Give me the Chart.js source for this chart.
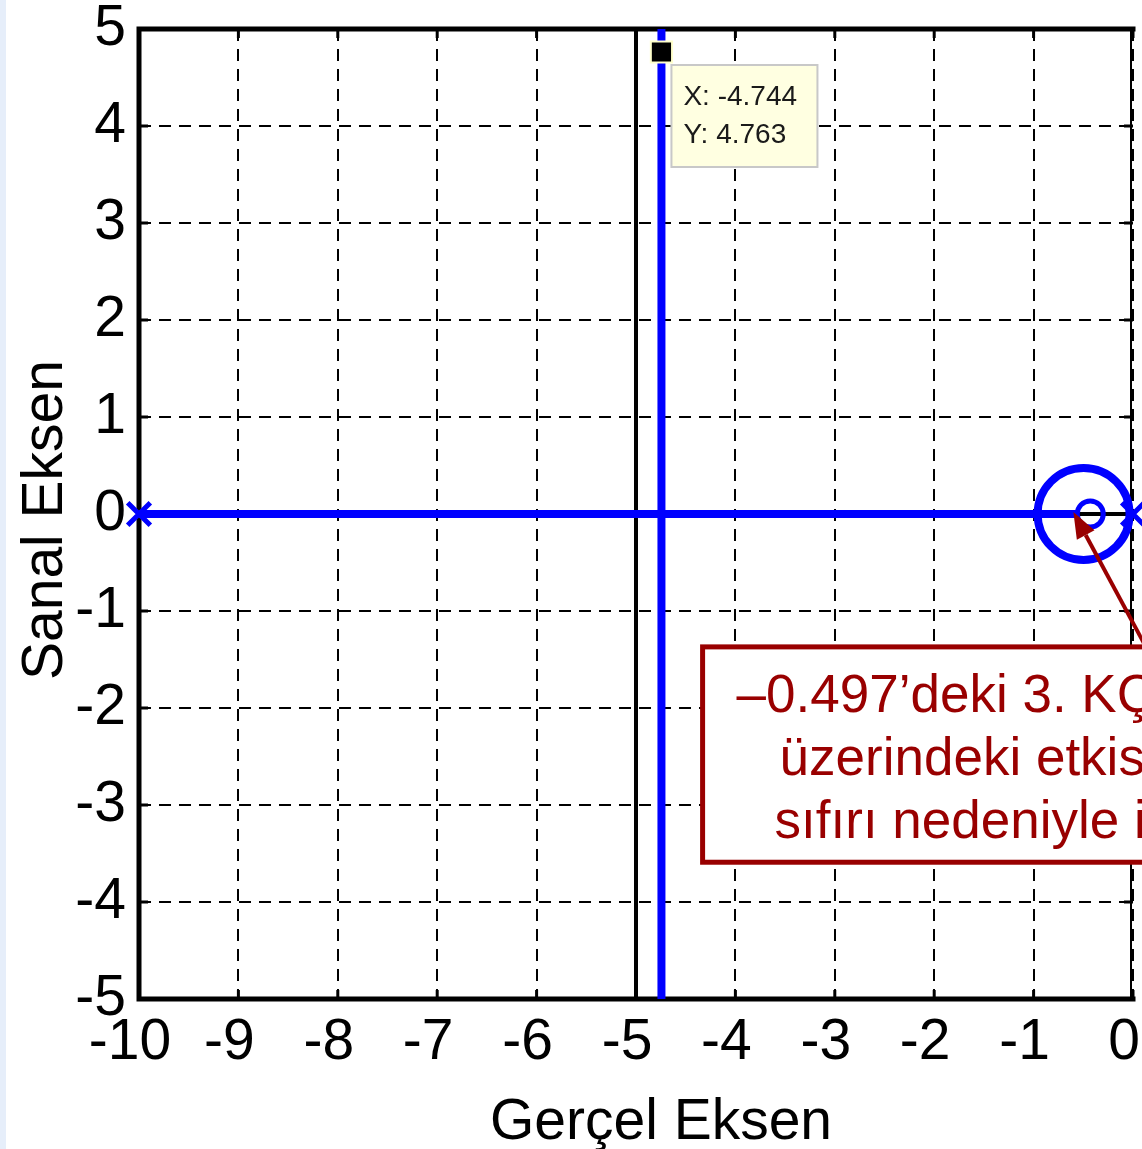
<!DOCTYPE html>
<html>
<head>
<meta charset="utf-8">
<title>Kök Yer Eğrisi</title>
<script src="https://cdn.jsdelivr.net/npm/chart.js@4.4.1/dist/chart.umd.min.js"></script>
<style>
  html, body { margin: 0; padding: 0; background: #fff; overflow: hidden; }
  #wrap { position: relative; width: 1142px; height: 1149px; }
</style>
</head>
<body>
<div id="wrap"><canvas id="rootLocus"></canvas></div>
<script>
// eksen değerleri
var xTicks = [-10, -9, -8, -7, -6, -5, -4, -3, -2, -1, 0];
var yTicks = [-5, -4, -3, -2, -1, 0, 1, 2, 3, 4, 5];

// açık çevrim kutupları ve sıfır
var poleX = [-10, 0];
var zeroX = [-0.43];
// 3. kapalı çevrim kutbu
var clPoleX = [-0.497];

// kök yer eğrisi dalları
var realBranchX = [-10, -0.56];
var imagBranchX = -4.744;
var imagBranchY = [-5, 5];

// seçilen nokta
var tipX = -4.744;
var tipY = 4.763;

var noteLines = ['\u20130.497\u2019deki 3. K\u00c7', '\u00fczerindeki etkis', 's\u0131f\u0131r\u0131 nedeniyle i'];

var FONT = '"Liberation Sans", Arial, sans-serif';
var BLUE = '#0000ff';
var RED = '#990000';

function pts(xs, ys) {
    return xs.map(function (x, i) { return { x: x, y: ys[i] }; });
}

var extras = {
    id: 'extras',
    beforeDraw: function (chart) {
        var ctx = chart.ctx;
        ctx.save();
        ctx.fillStyle = '#fff';
        ctx.fillRect(0, 0, chart.width, chart.height);
        ctx.fillStyle = '#e6eefa';
        ctx.fillRect(0, 0, 6, chart.height);
        ctx.restore();
    },
    beforeDatasetsDraw: function (chart) {
        var a = chart.chartArea, ctx = chart.ctx;
        var xs = chart.scales.x, ys = chart.scales.y;
        ctx.save();
        ctx.strokeStyle = '#000';
        ctx.lineWidth = 3;
        ctx.beginPath();
        xs.ticks.forEach(function (t) {
            var px = xs.getPixelForValue(t.value);
            ctx.moveTo(px, a.top); ctx.lineTo(px, a.top + 9);
            ctx.moveTo(px, a.bottom); ctx.lineTo(px, a.bottom - 9);
        });
        ys.ticks.forEach(function (t) {
            var py = ys.getPixelForValue(t.value);
            ctx.moveTo(a.left, py); ctx.lineTo(a.left + 9, py);
            ctx.moveTo(a.right, py); ctx.lineTo(a.right - 9, py);
        });
        ctx.stroke();
        // eksen kutusu
        ctx.lineWidth = 5;
        ctx.lineCap = 'square';
        ctx.beginPath();
        ctx.moveTo(a.right, a.top);
        ctx.lineTo(a.left, a.top);
        ctx.lineTo(a.left, a.bottom);
        ctx.lineTo(a.right, a.bottom);
        ctx.stroke();
        ctx.lineWidth = 2;
        ctx.beginPath();
        ctx.moveTo(a.right - 2, a.top);
        ctx.lineTo(a.right - 2, a.bottom);
        ctx.stroke();
        ctx.restore();
    },
    afterDraw: function (chart) {
        var ctx = chart.ctx;
        var xs = chart.scales.x, ys = chart.scales.y;
        ctx.save();

        // eksen başlıkları
        ctx.fillStyle = '#000';
        ctx.font = '57px ' + FONT;
        ctx.textAlign = 'center';
        ctx.textBaseline = 'alphabetic';
        ctx.fillText('Ger\u00e7el Eksen', 661, 1139);
        ctx.save();
        ctx.translate(62, 520);
        ctx.rotate(-Math.PI / 2);
        ctx.fillText('Sanal Eksen', 0, 0);
        ctx.restore();

        // veri ipucu
        var px = xs.getPixelForValue(tipX), py = ys.getPixelForValue(tipY);
        var bx = px + 10, by = py + 13;
        ctx.fillStyle = '#ffffe1';
        ctx.fillRect(bx, by, 146, 102);
        ctx.strokeStyle = '#c8c8c8';
        ctx.lineWidth = 2;
        ctx.strokeRect(bx, by, 146, 102);
        ctx.fillStyle = '#1a1a1a';
        ctx.font = '28px ' + FONT;
        ctx.textAlign = 'left';
        ctx.fillText('X: ' + tipX.toFixed(3), bx + 12, by + 40);
        ctx.fillText('Y: ' + tipY.toFixed(3), bx + 12, by + 78);

        // açıklama kutusu
        var left = xs.getPixelForValue(-4.33), top = ys.getPixelForValue(-1.37);
        var bottom = ys.getPixelForValue(-3.59);
        ctx.fillStyle = '#fff';
        ctx.fillRect(left, top, chart.width - left + 20, bottom - top);
        ctx.strokeStyle = RED;
        ctx.lineWidth = 5;
        ctx.strokeRect(left, top, chart.width - left + 20, bottom - top);
        ctx.fillStyle = RED;
        ctx.font = '53px ' + FONT;
        var offs = [34, 77, 72];
        noteLines.forEach(function (s, i) {
            ctx.fillText(s, left + offs[i], top + 65 + i * 63);
        });

        // ok
        var x0 = xs.getPixelForValue(0.13), y0 = ys.getPixelForValue(-1.37);
        var x1 = xs.getPixelForValue(-0.60), y1 = ys.getPixelForValue(0.02);
        var ang = Math.atan2(y1 - y0, x1 - x0);
        var hl = 26, hw = 10;
        var bxh = x1 - hl * Math.cos(ang), byh = y1 - hl * Math.sin(ang);
        ctx.strokeStyle = RED;
        ctx.lineWidth = 4;
        ctx.beginPath();
        ctx.moveTo(x0, y0);
        ctx.lineTo(bxh, byh);
        ctx.stroke();
        ctx.beginPath();
        ctx.moveTo(x1, y1);
        ctx.lineTo(bxh + hw * Math.sin(ang), byh - hw * Math.cos(ang));
        ctx.lineTo(bxh - hw * Math.sin(ang), byh + hw * Math.cos(ang));
        ctx.closePath();
        ctx.fill();

        ctx.restore();
    }
};

var datasets = [
    {   // seçilen nokta
        data: [{ x: tipX, y: tipY }],
        showLine: false,
        pointStyle: 'rect',
        pointRadius: 15,
        backgroundColor: '#000',
        borderColor: '#ffffcc',
        borderWidth: 2,
        clip: false
    },
    {   // kutuplar
        data: pts(poleX, poleX.map(function () { return 0; })),
        showLine: false,
        pointStyle: 'crossRot',
        pointRadius: 16,
        borderColor: BLUE,
        borderWidth: 5,
        clip: false
    },
    {   // sıfır
        data: pts(zeroX, [0]),
        showLine: false,
        pointStyle: 'circle',
        pointRadius: 13,
        borderColor: BLUE,
        backgroundColor: 'rgba(0,0,0,0)',
        borderWidth: 5,
        clip: false
    },
    {   // kapalı çevrim kutbu
        data: pts(clPoleX, [0]),
        showLine: false,
        pointStyle: 'circle',
        pointRadius: 46,
        borderColor: BLUE,
        backgroundColor: 'rgba(0,0,0,0)',
        borderWidth: 8,
        clip: false
    },
    {   // reel eksen dalı
        data: pts(realBranchX, [0, 0]),
        showLine: true,
        borderColor: BLUE,
        borderWidth: 8,
        pointRadius: 0
    },
    {   // düşey dal
        data: pts([imagBranchX, imagBranchX], imagBranchY),
        showLine: true,
        borderColor: BLUE,
        borderWidth: 8,
        pointRadius: 0
    },
    {   // reel eksen
        data: pts([-10, 0], [0, 0]),
        showLine: true,
        borderColor: '#000',
        borderWidth: 4,
        pointRadius: 0
    },
    {   // s = -5 çizgisi
        data: pts([-5, -5], [-5, 5]),
        showLine: true,
        borderColor: '#000',
        borderWidth: 4,
        pointRadius: 0
    }
];

var tickFont = { family: FONT, size: 57 };

new Chart(document.getElementById('rootLocus'), {
    type: 'scatter',
    data: { datasets: datasets },
    options: {
        responsive: true,
        maintainAspectRatio: false,
        animation: false,
        events: [],
        layout: { autoPadding: false, padding: { top: 29, right: 9, left: 0, bottom: 0 } },
        plugins: { legend: { display: false }, tooltip: { enabled: false } },
        scales: {
            x: {
                type: 'linear',
                min: -10,
                max: 0,
                afterBuildTicks: function (s) { s.ticks = xTicks.map(function (v) { return { value: v }; }); },
                afterFit: function (s) { s.height = 150; s.paddingLeft = 0; s.paddingRight = 0; },
                ticks: { font: tickFont, color: '#000', padding: 10, labelOffset: -9, maxRotation: 0, autoSkip: false },
                grid: { color: '#000', lineWidth: 2, drawTicks: false },
                border: { display: false, dash: [12, 8] }
            },
            y: {
                type: 'linear',
                min: -5,
                max: 5,
                afterBuildTicks: function (s) { s.ticks = yTicks.map(function (v) { return { value: v }; }); },
                afterFit: function (s) { s.width = 139; s.paddingTop = 0; s.paddingBottom = 0; },
                ticks: { font: tickFont, color: '#000', padding: 13, autoSkip: false },
                grid: { color: '#000', lineWidth: 2, drawTicks: false },
                border: { display: false, dash: [12, 8] }
            }
        }
    },
    plugins: [extras]
});
</script>
</body>
</html>
